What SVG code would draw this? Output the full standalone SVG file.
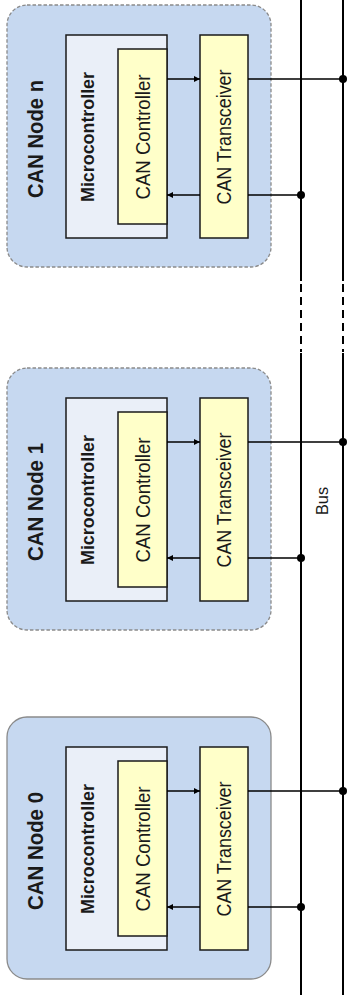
<svg xmlns="http://www.w3.org/2000/svg" width="348" height="1006" viewBox="0 0 348 1006">
<style>
.outer{fill:#c6d8f0;stroke:#8a8a8a;stroke-width:1.3}
.dash{stroke-dasharray:3.5,2}
.mcu{fill:#eaeff8;stroke:#1a1a1a;stroke-width:1.5}
.box{fill:#ffffc9;stroke:#1a1a1a;stroke-width:1.5}
.t{font-family:"Liberation Sans",Arial,sans-serif;fill:#1a1a1a;text-anchor:middle}
.b{font-weight:bold}
.w{stroke:#000;stroke-width:1.3;fill:none}
.bus{stroke:#000;stroke-width:2;fill:none}
</style>
<defs>
<marker id="ah" viewBox="0 0 10 10" refX="10" refY="5" markerWidth="6" markerHeight="6" orient="auto" markerUnits="userSpaceOnUse">
<path d="M0,0 L10,5 L0,10 z" fill="#000"/>
</marker>
</defs>

<g id="node-n">
<rect class="outer dash" x="7" y="5" width="264" height="262" rx="20"/>
<rect class="mcu" x="66" y="35" width="101" height="203"/>
<rect class="box" x="118" y="49" width="49" height="175"/>
<rect class="box" x="200" y="35" width="48" height="203"/>
<text class="t b" font-size="21.5" textLength="118" lengthAdjust="spacingAndGlyphs" transform="translate(42.5,139) rotate(-90)">CAN Node n</text>
<text class="t b" font-size="19" textLength="130" lengthAdjust="spacingAndGlyphs" transform="translate(94,137) rotate(-90)">Microcontroller</text>
<text class="t" font-size="20" textLength="125" lengthAdjust="spacingAndGlyphs" transform="translate(150,137) rotate(-90)">CAN Controller</text>
<text class="t" font-size="20" textLength="135" lengthAdjust="spacingAndGlyphs" transform="translate(231,137) rotate(-90)">CAN Transceiver</text>
</g>

<g id="node-1">
<rect class="outer dash" x="7" y="368" width="264" height="262" rx="20"/>
<rect class="mcu" x="66" y="398" width="101" height="203"/>
<rect class="box" x="118" y="412" width="49" height="175"/>
<rect class="box" x="200" y="398" width="48" height="203"/>
<text class="t b" font-size="21.5" textLength="118" lengthAdjust="spacingAndGlyphs" transform="translate(42.5,502) rotate(-90)">CAN Node 1</text>
<text class="t b" font-size="19" textLength="130" lengthAdjust="spacingAndGlyphs" transform="translate(94,500) rotate(-90)">Microcontroller</text>
<text class="t" font-size="20" textLength="125" lengthAdjust="spacingAndGlyphs" transform="translate(150,500) rotate(-90)">CAN Controller</text>
<text class="t" font-size="20" textLength="135" lengthAdjust="spacingAndGlyphs" transform="translate(231,500) rotate(-90)">CAN Transceiver</text>
</g>

<g id="node-0">
<rect class="outer" x="7" y="717" width="264" height="262" rx="20"/>
<rect class="mcu" x="66" y="747" width="101" height="203"/>
<rect class="box" x="118" y="761" width="49" height="175"/>
<rect class="box" x="200" y="747" width="48" height="203"/>
<text class="t b" font-size="21.5" textLength="118" lengthAdjust="spacingAndGlyphs" transform="translate(42.5,851) rotate(-90)">CAN Node 0</text>
<text class="t b" font-size="19" textLength="130" lengthAdjust="spacingAndGlyphs" transform="translate(94,849) rotate(-90)">Microcontroller</text>
<text class="t" font-size="20" textLength="125" lengthAdjust="spacingAndGlyphs" transform="translate(150,849) rotate(-90)">CAN Controller</text>
<text class="t" font-size="20" textLength="135" lengthAdjust="spacingAndGlyphs" transform="translate(231,849) rotate(-90)">CAN Transceiver</text>
</g>

<g id="bus">
<path class="bus" d="M301,0 V281 M301,353 V995 M343,0 V281 M343,353 V995"/>
<path class="bus" stroke-dasharray="8,5" d="M301,284 V352 M343,284 V352"/>
<text class="t" font-size="16" textLength="28" lengthAdjust="spacingAndGlyphs" transform="translate(327.5,501) rotate(-90)">Bus</text>
</g>

<g id="connectors">
<path class="w" marker-end="url(#ah)" d="M167,79 H200"/>
<path class="w" marker-end="url(#ah)" d="M200,195 H167"/>
<path class="w" d="M248,79 H343 M248,195 H301"/>
<path class="w" marker-end="url(#ah)" d="M167,442 H200"/>
<path class="w" marker-end="url(#ah)" d="M200,558 H167"/>
<path class="w" d="M248,442 H343 M248,558 H301"/>
<path class="w" marker-end="url(#ah)" d="M167,791 H200"/>
<path class="w" marker-end="url(#ah)" d="M200,907 H167"/>
<path class="w" d="M248,791 H343 M248,907 H301"/>
<g fill="#000">
<circle cx="343" cy="79" r="4"/>
<circle cx="301" cy="195" r="4"/>
<circle cx="343" cy="442" r="4"/>
<circle cx="301" cy="558" r="4"/>
<circle cx="343" cy="791" r="4"/>
<circle cx="301" cy="907" r="4"/>
</g>
</g>
</svg>
